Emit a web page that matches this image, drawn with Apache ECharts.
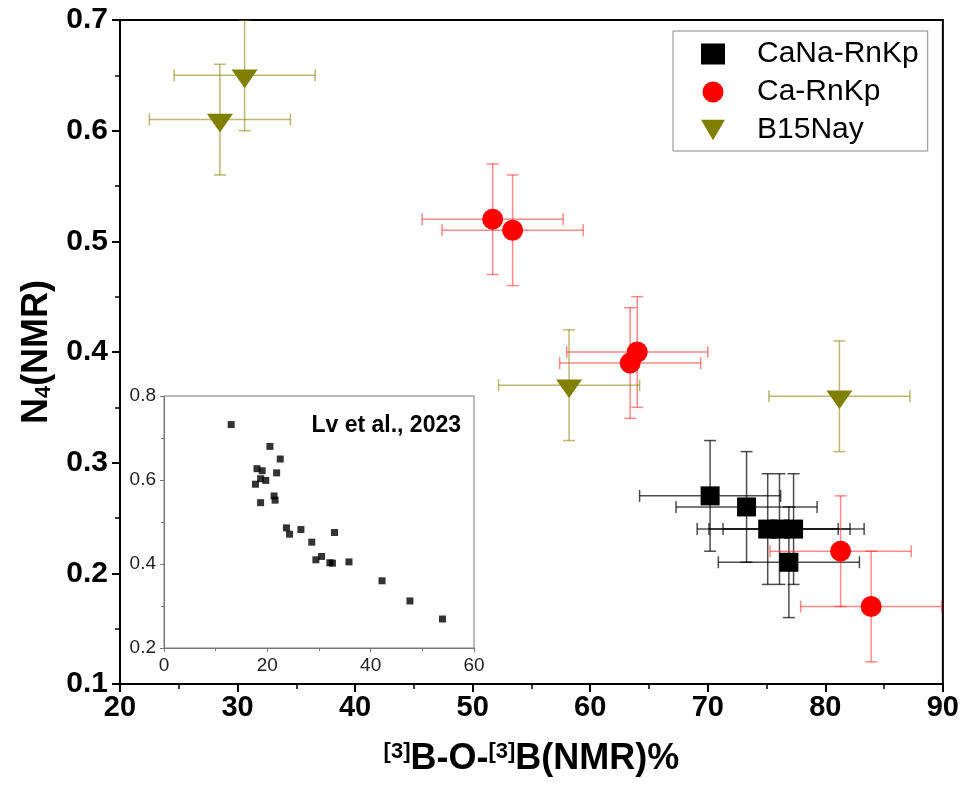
<!DOCTYPE html>
<html>
<head>
<meta charset="utf-8">
<title>N4 vs B-O-B</title>
<script src="https://cdn.jsdelivr.net/npm/echarts@6/dist/echarts.min.js"></script>
<style>
  html, body { margin: 0; padding: 0; background: #fff; }
  #chart { width: 962px; height: 792px; }
</style>
</head>
<body>
<div id="chart"></div>
<script>
// main plot data: x = [3]B-O-[3]B %, y = N4, with x / y errors
const canaX = [70.2, 73.3, 75.1, 76.1, 77.3, 76.9];
const canaY = [0.27, 0.26, 0.24, 0.24, 0.24, 0.21];
const canaXErr = [6, 6, 6, 6, 6, 6];
const canaYErr = [0.05, 0.05, 0.05, 0.05, 0.05, 0.05];

const caX = [51.7, 53.4, 63.4, 64.0, 81.3, 83.9];
const caY = [0.52, 0.51, 0.39, 0.40, 0.22, 0.17];
const caXErr = [6, 6, 6, 6, 6, 6];
const caYErr = [0.05, 0.05, 0.05, 0.05, 0.05, 0.05];

const b15X = [28.5, 30.6, 58.2, 81.2];
const b15Y = [0.61, 0.65, 0.37, 0.36];
const b15XErr = [6, 6, 6, 6];
const b15YErr = [0.05, 0.05, 0.05, 0.05];

// inset (Lv et al., 2023)
const lvX = [13.0, 20.5, 22.5, 18.0, 19.0, 21.8, 18.7, 19.7, 17.7, 21.3, 21.5, 18.7, 23.7,
             24.3, 26.5, 33.0, 28.6, 29.4, 30.5, 32.1, 32.6, 35.8, 42.2, 47.6, 53.9];
const lvY = [0.732, 0.680, 0.650, 0.627, 0.622, 0.617, 0.603, 0.599, 0.590, 0.562, 0.552, 0.546, 0.486,
             0.471, 0.482, 0.475, 0.452, 0.410, 0.418, 0.403, 0.402, 0.405, 0.360, 0.312, 0.269];

const names = ['CaNa-RnKp', 'Ca-RnKp', 'B15Nay'];
const triDown = 'path://M0,0 L26,0 L13,22 Z';
const FONT = "'Liberation Sans', Arial, sans-serif";
const NARROW = "'Liberation Sans Narrow', 'Liberation Sans', Arial, sans-serif";

function errorSeries(name, xs, ys, xe, ye, color) {
    return {
        type: 'custom',
        name: name + ' err',
        xAxisIndex: 0,
        yAxisIndex: 0,
        clip: true,
        silent: true,
        z: 2,
        data: xs.map((x, i) => [x, ys[i], xe[i], ye[i]]),
        renderItem: function (params, api) {
            const x = api.value(0), y = api.value(1);
            const ex = api.value(2), ey = api.value(3);
            const l = api.coord([x - ex, y]), r = api.coord([x + ex, y]);
            const t = api.coord([x, y + ey]), b = api.coord([x, y - ey]);
            const cap = 6;
            const st = { stroke: color, lineWidth: 1.5 };
            const seg = (x1, y1, x2, y2) => ({ type: 'line', shape: { x1, y1, x2, y2 }, style: st });
            return {
                type: 'group',
                children: [
                    seg(l[0], l[1], r[0], r[1]),
                    seg(l[0], l[1] - cap, l[0], l[1] + cap),
                    seg(r[0], r[1] - cap, r[0], r[1] + cap),
                    seg(t[0], t[1], b[0], b[1]),
                    seg(t[0] - cap, t[1], t[0] + cap, t[1]),
                    seg(b[0] - cap, b[1], b[0] + cap, b[1])
                ]
            };
        }
    };
}

function pointSeries(name, xs, ys, symbol, size, color, offset) {
    return {
        type: 'scatter',
        name: name,
        xAxisIndex: 0,
        yAxisIndex: 0,
        z: 3,
        symbol: symbol,
        symbolSize: size,
        symbolOffset: offset || [0, 0],
        symbolKeepAspect: true,
        itemStyle: { color: color, opacity: 1 },
        data: xs.map((x, i) => [x, ys[i]])
    };
}

const chart = echarts.init(document.getElementById('chart'));

const option = {
    backgroundColor: '#fff',
    animation: false,
    title: {
        text: 'Lv et al., 2023',
        right: 496,
        top: 409,
        textStyle: { fontSize: 23, fontWeight: 'bold', color: '#000', fontFamily: FONT }
    },
    legend: {
        data: names,
        orient: 'vertical',
        left: 673,
        top: 31,
        padding: [8, 9, 6, 28],
        itemGap: 8,
        itemWidth: 24,
        itemHeight: 21,
        borderColor: '#888',
        borderWidth: 1,
        textStyle: { fontSize: 30, color: '#000', fontFamily: FONT, lineHeight: 30, padding: [0, 0, 0, 27] }
    },
    grid: [
        { left: 120, top: 20, right: 17, bottom: 108, show: true, borderColor: '#000', borderWidth: 2 },
        { left: 164, top: 396, width: 310, height: 252, show: true, borderColor: '#777', borderWidth: 1, backgroundColor: '#fff' }
    ],
    xAxis: [
        {
            type: 'value', gridIndex: 0, min: 20, max: 90, interval: 10,
            name: '{s|[3]}{a|B-O-}{s|[3]}{a|B(NMR)%}',
            nameLocation: 'middle',
            nameGap: 57,
            nameTextStyle: {
                rich: {
                    a: { fontSize: 36, fontWeight: 'bold', color: '#000', fontFamily: NARROW },
                    s: { fontSize: 22, fontWeight: 'bold', color: '#000', fontFamily: NARROW, verticalAlign: 'top', padding: [0, 0, 14, 0] }
                }
            },
            axisLine: { show: true, onZero: false, lineStyle: { color: '#000', width: 2 } },
            axisTick: { show: true, length: 8, lineStyle: { color: '#000', width: 2 } },
            minorTick: { show: true, splitNumber: 2, length: 5, lineStyle: { color: '#000', width: 1.5 } },
            splitLine: { show: false },
            axisLabel: { fontSize: 29, fontWeight: 'bold', color: '#000', margin: 9, fontFamily: NARROW }
        },
        {
            type: 'value', gridIndex: 1, min: 0, max: 60, interval: 20,
            axisLine: { show: true, onZero: false, lineStyle: { color: '#777', width: 1 } },
            axisTick: { show: true, length: 4, lineStyle: { color: '#777' } },
            minorTick: { show: true, splitNumber: 2, length: 3, lineStyle: { color: '#777' } },
            splitLine: { show: false },
            axisLabel: { fontSize: 19, color: '#222', margin: 8, fontFamily: FONT }
        }
    ],
    yAxis: [
        {
            type: 'value', gridIndex: 0, min: 0.1, max: 0.7, interval: 0.1,
            name: '{a|N}{s|4}{a|(NMR)}',
            nameLocation: 'middle',
            nameGap: 63,
            nameTextStyle: {
                rich: {
                    a: { fontSize: 36, fontWeight: 'bold', color: '#000', fontFamily: NARROW },
                    s: { fontSize: 22, fontWeight: 'bold', color: '#000', fontFamily: NARROW, verticalAlign: 'bottom', padding: [14, 0, 0, 0] }
                }
            },
            axisLine: { show: true, onZero: false, lineStyle: { color: '#000', width: 2 } },
            axisTick: { show: true, length: 8, lineStyle: { color: '#000', width: 2 } },
            minorTick: { show: true, splitNumber: 2, length: 5, lineStyle: { color: '#000', width: 1.5 } },
            splitLine: { show: false },
            axisLabel: {
                fontSize: 30, fontWeight: 'bold', color: '#000', margin: 12, fontFamily: FONT,
                formatter: v => v.toFixed(1)
            }
        },
        {
            type: 'value', gridIndex: 1, min: 0.2, max: 0.8, interval: 0.2,
            axisLine: { show: true, onZero: false, lineStyle: { color: '#777', width: 1 } },
            axisTick: { show: true, length: 4, lineStyle: { color: '#777' } },
            minorTick: { show: true, splitNumber: 2, length: 3, lineStyle: { color: '#777' } },
            splitLine: { show: false },
            axisLabel: { fontSize: 19, color: '#222', margin: 8, fontFamily: FONT, formatter: v => v.toFixed(1) }
        }
    ],
    series: [
        errorSeries(names[0], canaX, canaY, canaXErr, canaYErr, 'rgba(0,0,0,0.7)'),
        errorSeries(names[1], caX, caY, caXErr, caYErr, 'rgba(255,40,40,0.55)'),
        errorSeries(names[2], b15X, b15Y, b15XErr, b15YErr, 'rgba(128,128,0,0.55)'),
        pointSeries(names[0], canaX, canaY, 'rect', 19, '#000'),
        pointSeries(names[1], caX, caY, 'circle', 21, '#ff0000'),
        pointSeries(names[2], b15X, b15Y, triDown, [26, 22], '#808000', [0, 3.5]),
        {
            type: 'scatter',
            name: 'Lv et al., 2023',
            xAxisIndex: 1,
            yAxisIndex: 1,
            z: 5,
            symbol: 'rect',
            symbolSize: 7,
            itemStyle: { color: '#000' },
            data: lvX.map((x, i) => [x, lvY[i]])
        }
    ]
};

chart.setOption(option);
</script>
</body>
</html>
